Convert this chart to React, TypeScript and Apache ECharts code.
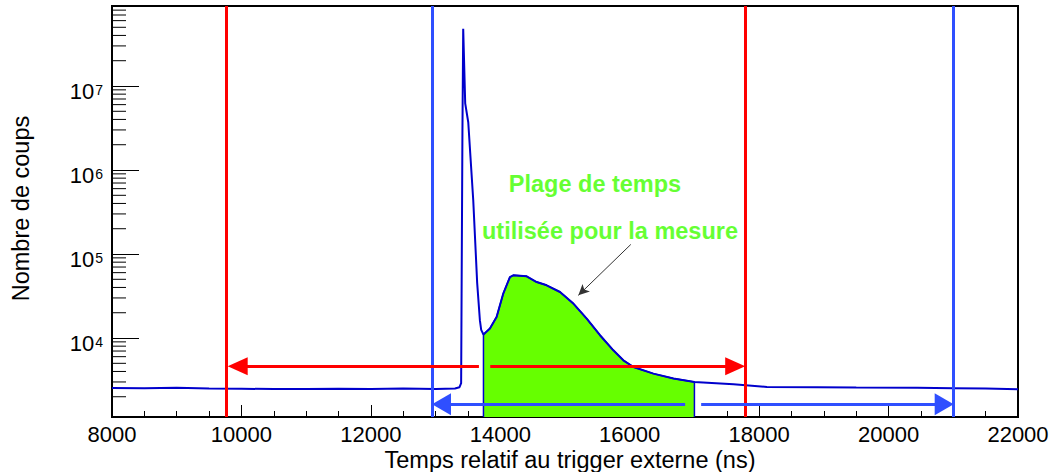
import React, { useEffect, useRef } from "react";
import * as echarts from "echarts";

const X_MIN = 8000;
const X_MAX = 22000;
const X_INTERVAL = 2000;
const Y_MIN = 1148;
const Y_MAX = 8.96e7;

const timeNs = [
  8000, 8500, 9000, 9500, 10000, 10500, 11000, 11500, 12000, 12500,
  13000, 13300, 13370, 13395, 13415, 13427, 13458, 13505, 13582, 13643,
  13685, 13705, 13740, 13840, 13943, 14046, 14149, 14200, 14408, 14562, 14717, 14923,
  15129, 15336, 15541, 15747, 15902, 16057, 16366, 16676, 17000, 17604,
  18120, 18894, 19500, 20441, 21000, 21500, 22000,
];
const counts = [
  2540, 2520, 2560, 2500, 2490, 2470, 2480, 2490, 2470, 2500,
  2480, 2510, 2600, 2900, 2.8e6, 4.8e7, 6.2e6, 3.7e6, 4.4e5, 4.5e4,
  1.62e4, 1.25e4, 1.1e4, 1.3e4, 1.78e4, 3.38e4, 5.32e4, 5.57e4, 5.42e4, 4.64e4, 4.24e4, 3.53e4,
  2.57e4, 1.7e4, 1.08e4, 7140, 5430, 4520, 3770, 3290, 2990, 2810,
  2620, 2600, 2570, 2560, 2530, 2500, 2450,
];

const GREEN_START = 13740;
const GREEN_END = 17000;

const redLines = [9760, 17790];
const blueLines = [12950, 21000];

const redArrowY = 4600;
const blueArrowY = 1625;
// [from, to(symbol centre)]
const redArrows = [
  [13670, 9942],
  [13845, 17630],
];
const blueArrows = [
  [16856, 13092],
  [17104, 20859],
];
const pointerFrom = [16017, 1.3e5];
const pointerTo = [15206, 3.22e4];

const labelLine1 = "Plage de temps";
const labelLine2 = "utilisée pour la mesure";
const xTitle = "Temps relatif au trigger externe (ns)";
const yTitle = "Nombre de coups";

const FONT = "Liberation Sans, Arial, sans-serif";
const CURVE = "#0000cc";
const GREEN = "#66ff00";
const GREEN_TEXT = "#66ff33";
const RED = "#ff0000";
const BLUE = "#2f4fff";

export default function App() {
  const ref = useRef<HTMLDivElement>(null);

  useEffect(() => {
    if (!ref.current) return;
    const chart = echarts.init(ref.current, null, { renderer: "svg" });

    const curve = timeNs.map((t, i) => [t, counts[i]]);
    const greenData = [
      [GREEN_START, Y_MIN],
      ...curve.filter((p) => p[0] >= GREEN_START && p[0] <= GREEN_END),
      [GREEN_END, Y_MIN],
    ];

    const minorTicks: number[] = [];
    for (let k = 3; k <= 7; k++) {
      for (let m = 2; m <= 9; m++) {
        const v = m * Math.pow(10, k);
        if (v > Y_MIN && v < Y_MAX) minorTicks.push(v);
      }
    }

    const arrowItem = (y: number, pair: number[], color: string, size: number[]) => [
      { coord: [pair[0], y], symbol: "none" },
      {
        coord: [pair[1], y],
        symbol: "triangle",
        symbolSize: size,
        lineStyle: { color, width: 3, type: "solid" },
        itemStyle: { color },
      },
    ];

    const option: any = {
      animation: false,
      backgroundColor: "#fff",
      grid: {
        left: 112,
        top: 6,
        right: 31,
        bottom: 55,
        show: true,
        borderColor: "#000",
        borderWidth: 2,
        backgroundColor: "transparent",
        containLabel: false,
        outerBoundsMode: "none",
      },
      xAxis: {
        type: "value",
        min: X_MIN,
        max: X_MAX,
        interval: X_INTERVAL,
        axisLine: { lineStyle: { color: "#000", width: 2 } },
        axisTick: { inside: true, length: 12, lineStyle: { color: "#000", width: 1 } },
        minorTick: { show: true, splitNumber: 4, length: 6, lineStyle: { color: "#000", width: 1 } },
        splitLine: { show: false },
        axisLabel: {
          color: "#000",
          fontSize: 22,
          fontFamily: FONT,
          lineHeight: 18,
          margin: 8,
          formatter: (v: number) => String(Math.round(v)),
        },
      },
      yAxis: {
        type: "log",
        logBase: 10,
        min: Y_MIN,
        max: Y_MAX,
        axisLine: { show: true, lineStyle: { color: "#000", width: 2 } },
        axisTick: { inside: true, length: 27, lineStyle: { color: "#000", width: 1 } },
        splitLine: { show: false },
        axisLabel: {
          margin: 9,
          formatter: (v: number) => {
            const l = Math.log10(v);
            const e = Math.round(l);
            if (Math.abs(l - e) > 1e-4) return "";
            return `{b|10}{s|${e}}`;
          },
          rich: {
            b: { fontSize: 22, fontFamily: FONT, color: "#000", lineHeight: 22, padding: [10, 0, 0, 0] },
            s: { fontSize: 14, fontFamily: FONT, color: "#000", lineHeight: 14, verticalAlign: "top", padding: [8, 0, 0, 1] },
          },
        },
      },
      series: [
        {
          type: "line",
          data: greenData,
          symbol: "none",
          z: 2,
          lineStyle: { color: CURVE, width: 1.5 },
          areaStyle: { color: GREEN, opacity: 1, origin: "start" },
          silent: true,
        },
        {
          type: "line",
          data: curve,
          symbol: "none",
          z: 3,
          lineStyle: { color: CURVE, width: 2 },
          silent: true,
          markLine: {
            silent: true,
            symbol: ["none", "none"],
            label: { show: false },
            emphasis: { disabled: true },
            data: [
              ...redLines.map((x) => ({ xAxis: x, lineStyle: { color: RED, width: 3, type: "solid" } })),
              ...blueLines.map((x) => ({ xAxis: x, lineStyle: { color: BLUE, width: 3, type: "solid" } })),
              ...redArrows.map((p) => arrowItem(redArrowY, p, RED, [18, 20])),
              ...blueArrows.map((p) => arrowItem(blueArrowY, p, BLUE, [22, 19])),
              [
                { coord: pointerFrom, symbol: "none" },
                {
                  coord: pointerTo,
                  symbol: "arrow",
                  symbolSize: [8, 11],
                  lineStyle: { color: "#333", width: 1, type: "solid" },
                  itemStyle: { color: "#333" },
                },
              ],
            ],
          },
        },
        {
          type: "custom",
          data: minorTicks.map((v) => [X_MIN, v]),
          silent: true,
          clip: false,
          z: 6,
          renderItem: (params: any, api: any) => {
            const p = api.coord([api.value(0), api.value(1)]);
            return {
              type: "line",
              shape: { x1: p[0], y1: p[1], x2: p[0] + 14, y2: p[1] },
              style: { stroke: "#000", lineWidth: 1 },
            };
          },
        },
      ],
      graphic: [
        {
          type: "text",
          x: 570,
          y: 459.5,
          style: { text: xTitle, fill: "#000", font: `23.5px ${FONT}`, lineHeight: 20, textAlign: "center", textVerticalAlign: "middle" },
        },
        {
          type: "text",
          x: 21,
          y: 208.5,
          rotation: Math.PI / 2,
          style: { text: yTitle, fill: "#000", font: `23.5px ${FONT}`, textAlign: "center", textVerticalAlign: "middle" },
        },
        {
          type: "text",
          x: 595,
          y: 184,
          style: { text: labelLine1, fill: GREEN_TEXT, font: `bold 23.5px ${FONT}`, textAlign: "center", textVerticalAlign: "middle" },
        },
        {
          type: "text",
          x: 610,
          y: 231,
          style: { text: labelLine2, fill: GREEN_TEXT, font: `bold 23.5px ${FONT}`, textAlign: "center", textVerticalAlign: "middle" },
        },
      ],
    };

    chart.setOption(option);
    return () => chart.dispose();
  }, []);

  return (
    <div
      ref={ref}
      style={{ position: "absolute", left: 0, top: 0, width: 1049, height: 472, background: "#fff" }}
    />
  );
}
